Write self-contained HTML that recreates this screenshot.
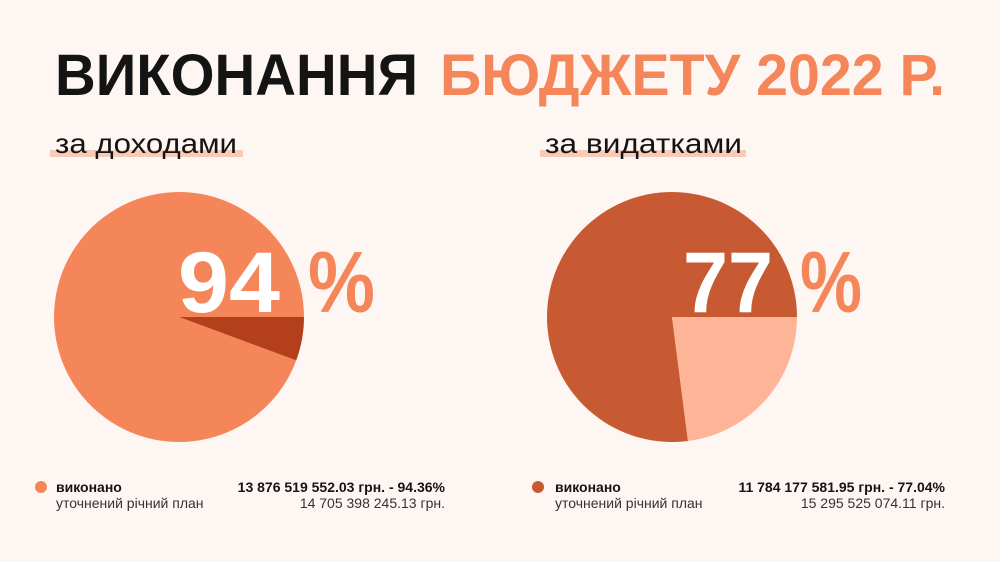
<!DOCTYPE html>
<html><head><meta charset="utf-8"><style>
html,body{margin:0;padding:0;background:#fdf6f2;}
svg{display:block;font-family:"Liberation Sans","Noto Sans CJK SC",sans-serif;}
</style></head><body>
<svg width="1000" height="562" viewBox="0 0 1000 562">
<rect width="1000" height="562" fill="#fdf6f2"/>
<text x="55" y="95" font-size="58" font-weight="bold" fill="#141414" textLength="363" lengthAdjust="spacingAndGlyphs">ВИКОНАННЯ</text>
<text x="440" y="95" font-size="58" font-weight="bold" fill="#f5865a" textLength="505" lengthAdjust="spacingAndGlyphs">БЮДЖЕТУ 2022 Р.</text>
<rect x="50" y="150" width="193" height="7" fill="#f8cbb7"/>
<rect x="540" y="150" width="206" height="7" fill="#f8cbb7"/>
<text x="55" y="153" font-size="28" fill="#141414" textLength="182" lengthAdjust="spacingAndGlyphs">за доходами</text>
<text x="545" y="153" font-size="28" fill="#141414" textLength="197" lengthAdjust="spacingAndGlyphs">за видатками</text>
<g id="pies"></g>
<text x="178" y="312" font-size="86" font-weight="bold" fill="#ffffff" textLength="102" lengthAdjust="spacingAndGlyphs">94</text>
<text x="308" y="312" font-size="86" font-weight="bold" fill="#f5865a" textLength="67" lengthAdjust="spacingAndGlyphs">%</text>
<text x="683" y="312" font-size="86" font-weight="bold" fill="#ffffff" textLength="90" lengthAdjust="spacingAndGlyphs">77</text>
<text x="800" y="312" font-size="86" font-weight="bold" fill="#f5865a" textLength="62" lengthAdjust="spacingAndGlyphs">%</text>

<circle cx="41" cy="487" r="6" fill="#f5865a"/>
<text x="56" y="492" font-size="14" font-weight="bold" fill="#141414">виконано</text>
<text x="445" y="492" font-size="14" font-weight="bold" fill="#141414" text-anchor="end">13 876 519 552.03 грн. - 94.36%</text>
<text x="56" y="508" font-size="14" fill="#333">уточнений річний план</text>
<text x="445" y="508" font-size="14" fill="#333" text-anchor="end">14 705 398 245.13 грн.</text>

<circle cx="538" cy="487" r="6" fill="#c85a33"/>
<text x="555" y="492" font-size="14" font-weight="bold" fill="#141414">виконано</text>
<text x="945" y="492" font-size="14" font-weight="bold" fill="#141414" text-anchor="end">11 784 177 581.95 грн. - 77.04%</text>
<text x="555" y="508" font-size="14" fill="#333">уточнений річний план</text>
<text x="945" y="508" font-size="14" fill="#333" text-anchor="end">15 295 525 074.11 грн.</text>
</svg>
<script>
const pieNames = ['income', 'expenses'];
const donePercents = [94.36, 77.04];
const doneColors = ['#f5865a', '#c85a33'];
const restColors = ['#b3401a', '#fdb497'];
const centersX = [179, 672];
const centerY = 317, R = 125;
const g = document.getElementById('pies');
const NS = 'http://www.w3.org/2000/svg';
function pt(cx, a) { return [cx + R * Math.cos(a), centerY + R * Math.sin(a)]; }
function arc(cx, a0, a1) {
  const p0 = pt(cx, a0), p1 = pt(cx, a1);
  const large = (a1 - a0) > Math.PI ? 1 : 0;
  return `M${cx},${centerY} L${p0[0]},${p0[1]} A${R},${R} 0 ${large} 1 ${p1[0]},${p1[1]} Z`;
}
pieNames.forEach((n, i) => {
  const restAngle = (100 - donePercents[i]) / 100 * 2 * Math.PI;
  const rest = document.createElementNS(NS, 'path');
  rest.setAttribute('d', arc(centersX[i], 0, restAngle));
  rest.setAttribute('fill', restColors[i]);
  
  
  const done = document.createElementNS(NS, 'path');
  done.setAttribute('d', arc(centersX[i], restAngle, 2 * Math.PI));
  done.setAttribute('fill', doneColors[i]);
  
  
  g.appendChild(done);
  g.appendChild(rest);
});
</script>
</body></html>
